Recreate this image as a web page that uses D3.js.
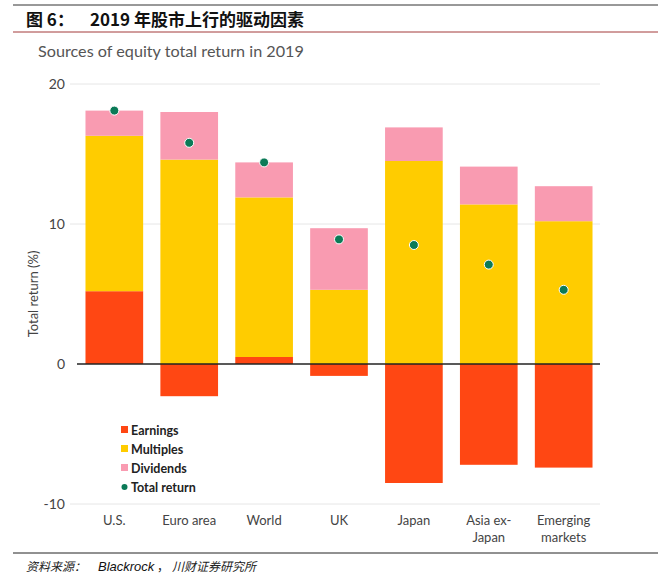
<!DOCTYPE html>
<meta charset="utf-8">
<script src="https://cdn.jsdelivr.net/npm/d3@7/dist/d3.min.js"></script>
<style>
    body { margin: 0; background: #fff; }
    .lbl { font-family: Lato, "Open Sans", sans-serif; }
</style>
<body>
<script>
var regions = ["U.S.", "Euro area", "World", "UK", "Japan", "Asia ex-|Japan", "Emerging|markets"];
var earnings  = [5.2, -2.3, 0.5, -0.85, -8.5, -7.2, -7.4];
var multiples = [11.1, 14.6, 11.4, 5.3, 14.5, 11.4, 10.2];
var dividends = [1.8, 3.4, 2.5, 4.4, 2.4, 2.7, 2.5];
var totalReturn = [18.1, 15.8, 14.4, 8.9, 8.5, 7.1, 5.3];
var yTicks = [-10, 0, 10, 20];
var legendNames = ["Earnings", "Multiples", "Dividends", "Total return"];

var colors = {e: "#FF4713", m: "#FFCC00", d: "#F99BB1", t: "#0B7A57"};

var svg = d3.select("body").append("svg")
    .attr("width", 671).attr("height", 577);

// header
svg.append("line").attr("x1", 13).attr("x2", 658).attr("y1", 5).attr("y2", 5)
    .attr("stroke", "#333").attr("stroke-width", 1);
svg.append("text").attr("x", 26).attr("y", 26)
    .style("font-family", "'Noto Sans CJK SC', sans-serif").style("font-weight", "bold")
    .style("font-size", "17px").attr("fill", "#111")
    .text("图 6：");
svg.append("text").attr("x", 90).attr("y", 26)
    .style("font-family", "'Noto Sans CJK SC', sans-serif").style("font-weight", "bold")
    .style("font-size", "17px").attr("fill", "#111")
    .text("2019 年股市上行的驱动因素");
svg.append("line").attr("x1", 13).attr("x2", 658).attr("y1", 32).attr("y2", 32)
    .attr("stroke", "#A33A3A").attr("stroke-width", 1);
svg.append("text").attr("class", "lbl").attr("x", 38).attr("y", 57)
    .style("font-size", "16.2px").attr("fill", "#555")
    .text("Sources of equity total return in 2019");

var x = d3.scaleBand().domain(regions).range([78, 600]).paddingInner(0.23).paddingOuter(0.1);
var y = d3.scaleLinear().domain([-10, 20]).range([504, 84]);

// grid
svg.selectAll(".grid").data(yTicks.filter(function(d) { return d !== 0; }))
    .enter().append("line")
    .attr("x1", 70).attr("x2", 600)
    .attr("y1", function(d) { return y(d); }).attr("y2", function(d) { return y(d); })
    .attr("stroke", "#e6e6e6").attr("stroke-width", 1);

svg.selectAll(".ytick").data(yTicks)
    .enter().append("text").attr("class", "lbl")
    .attr("x", 65).attr("y", function(d) { return y(d) + 5; })
    .attr("text-anchor", "end").style("font-size", "14px").attr("fill", "#444")
    .text(function(d) { return d; });

svg.append("text").attr("class", "lbl")
    .attr("transform", "translate(38," + y(5) + ") rotate(-90)")
    .attr("text-anchor", "middle").style("font-size", "13px").attr("fill", "#444")
    .text("Total return (%)");

// bars
function seg(vals, base, col) {
    svg.selectAll(null).data(regions).enter().append("rect")
        .attr("x", function(d) { return x(d); })
        .attr("width", x.bandwidth())
        .attr("y", function(d, i) { return y(Math.max(base[i], base[i] + vals[i])); })
        .attr("height", function(d, i) { return Math.abs(y(base[i]) - y(base[i] + vals[i])); })
        .attr("fill", col);
}
var zero = regions.map(function() { return 0; });
var posE = earnings.map(function(v) { return Math.max(v, 0); });
seg(earnings, zero, colors.e);
seg(multiples, posE, colors.m);
seg(dividends, posE.map(function(v, i) { return v + multiples[i]; }), colors.d);

// zero line
svg.append("line").attr("x1", 77).attr("x2", 600).attr("y1", y(0)).attr("y2", y(0))
    .attr("stroke", "#222").attr("stroke-width", 1.5);

// total return dots
svg.selectAll(".dot").data(totalReturn).enter().append("circle")
    .attr("cx", function(d, i) { return x(regions[i]) + x.bandwidth() / 2; })
    .attr("cy", function(d) { return y(d); })
    .attr("r", 4.5).attr("fill", colors.t).attr("stroke", "#fff").attr("stroke-width", 1);

// x labels
regions.forEach(function(r) {
    var t = svg.append("text").attr("class", "lbl")
        .attr("x", x(r) + x.bandwidth() / 2).attr("y", 525)
        .attr("text-anchor", "middle").style("font-size", "13px").attr("fill", "#444");
    r.split("|").forEach(function(s, k) {
        t.append("tspan").attr("x", x(r) + x.bandwidth() / 2).attr("dy", k ? 17 : 0).text(s);
    });
});

// legend
var legCols = [colors.e, colors.m, colors.d, colors.t];
legendNames.forEach(function(n, i) {
    var ly = 430 + i * 19;
    if (i < 3) {
        svg.append("rect").attr("x", 121).attr("y", ly - 4).attr("width", 7).attr("height", 7).attr("fill", legCols[i]);
    } else {
        svg.append("circle").attr("cx", 124.5).attr("cy", ly).attr("r", 3).attr("fill", legCols[i]);
    }
    svg.append("text").attr("class", "lbl").attr("x", 131).attr("y", ly + 4.5)
        .style("font-size", "12.5px").style("font-weight", "bold").attr("fill", "#222")
        .text(n);
});

// footer
svg.append("line").attr("x1", 13).attr("x2", 658).attr("y1", 553).attr("y2", 553)
    .attr("stroke", "#222").attr("stroke-width", 1);
svg.append("text").attr("x", 26).attr("y", 571)
    .style("font-family", "'Noto Sans CJK SC', sans-serif").style("font-style", "italic")
    .style("font-size", "12px").attr("fill", "#222")
    .text("资料来源：");
svg.append("text").attr("x", 98).attr("y", 571)
    .style("font-family", "'Liberation Sans', Arial, sans-serif").style("font-style", "italic")
    .style("font-size", "13px").attr("fill", "#111")
    .text("Blackrock");
svg.append("text").attr("x", 157).attr("y", 571)
    .style("font-family", "'Noto Sans CJK SC', sans-serif")
    .style("font-size", "12px").attr("fill", "#222")
    .text("，");
svg.append("text").attr("x", 172).attr("y", 571)
    .style("font-family", "'Noto Sans CJK SC', sans-serif").style("font-style", "italic")
    .style("font-size", "12px").attr("fill", "#222")
    .text("川财证券研究所");
</script>
</body>
</html>
